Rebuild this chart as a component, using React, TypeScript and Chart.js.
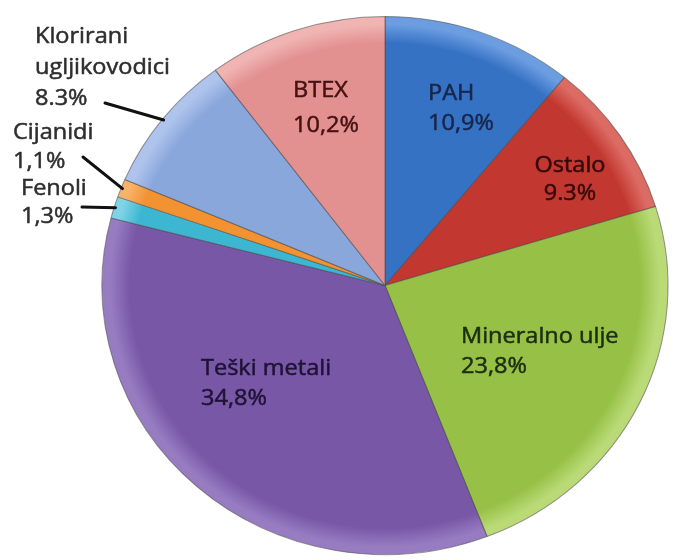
import React, { useEffect, useRef } from "react";
import { Chart, registerables } from "chart.js";

Chart.register(...registerables);

// ---- data ----
const categories = [
  "PAH",
  "Ostalo",
  "Mineralno ulje",
  "Teški metali",
  "Fenoli",
  "Cijanidi",
  "Klorirani ugljikovodici",
  "BTEX",
];
const values = [10.9, 9.3, 23.8, 34.8, 1.3, 1.1, 8.3, 10.2];
const valueLabels = ["10,9%", "9.3%", "23,8%", "34,8%", "1,3%", "1,1%", "8.3%", "10,2%"];
const nameLines = [
  ["PAH"],
  ["Ostalo"],
  ["Mineralno ulje"],
  ["Teški metali"],
  ["Fenoli"],
  ["Cijanidi"],
  ["Klorirani", "ugljikovodici"],
  ["BTEX"],
];

// ---- styles ----
const fillColors = ["#3672c4", "#c2372f", "#97c146", "#7857a7", "#3db6d2", "#f29231", "#8aa7dc", "#e29190"];
const rimColors = ["#6c9de1", "#dc6b64", "#b9da77", "#977cc2", "#7fd3e6", "#f8b36a", "#afc4ec", "#f0b4b2"];
const textColors = ["#18264d", "#360a0a", "#1c2f10", "#1f1335", "#2e2e2e", "#2e2e2e", "#2e2e2e", "#461212"];

// label layout: x, first baseline y, alignment, line height, leader line start (outside labels)
const labelLayout = [
  { x: 428, y: 100, align: "left", lh: 30 },
  { x: 570, y: 172, align: "center", lh: 28 },
  { x: 461, y: 343, align: "left", lh: 30 },
  { x: 201, y: 375, align: "left", lh: 30 },
  { x: 21, y: 195, align: "left", lh: 28, from: [82, 207] },
  { x: 13, y: 139, align: "left", lh: 29, from: [83, 157] },
  { x: 35, y: 43, align: "left", lh: 31, from: [105, 103] },
  { x: 293, y: 97, align: "left", lh: 35 },
];

const FONT = "500 21px 'Open Sans', 'DejaVu Sans', sans-serif";
const SX = 1.12;
// slight perspective squash of the pie (x, y scale about its centre)
const PIE_SX = 1.033;
const PIE_SY = 0.982;

function drawText(ctx: CanvasRenderingContext2D, text: string, x: number, y: number, align: string) {
  ctx.save();
  ctx.translate(x, y);
  ctx.scale(SX, 1);
  ctx.textAlign = align as CanvasTextAlign;
  ctx.textBaseline = "alphabetic";
  ctx.fillText(text, 0, 0);
  ctx.strokeText(text, 0, 0);
  ctx.restore();
}

function pieCentre(chart: any) {
  const a = chart.chartArea;
  return { cx: (a.left + a.right) / 2, cy: (a.top + a.bottom) / 2 };
}

const labelPlugin = {
  id: "sliceLabels",
  beforeDatasetsDraw(chart: any) {
    const ctx: CanvasRenderingContext2D = chart.ctx;
    const { cx, cy } = pieCentre(chart);
    ctx.save();
    ctx.translate(cx, cy);
    ctx.scale(PIE_SX, PIE_SY);
    ctx.translate(-cx, -cy);
  },
  afterDatasetsDraw(chart: any) {
    const ctx: CanvasRenderingContext2D = chart.ctx;
    ctx.restore();
    const { cx, cy } = pieCentre(chart);
    const meta = chart.getDatasetMeta(0);
    ctx.save();
    ctx.font = FONT;
    meta.data.forEach((arc: any, i: number) => {
      const L = labelLayout[i];
      const lines = [...nameLines[i], valueLabels[i]];
      ctx.fillStyle = textColors[i];
      ctx.strokeStyle = textColors[i];
      ctx.lineWidth = 0.5;
      lines.forEach((t, k) => drawText(ctx, t, L.x, L.y + k * L.lh, L.align));
      if (L.from) {
        const p = arc.getProps(["x", "y", "startAngle", "endAngle", "outerRadius"], true);
        const mid = (p.startAngle + p.endAngle) / 2;
        const px = p.x + Math.cos(mid) * p.outerRadius * 0.995;
        const py = p.y + Math.sin(mid) * p.outerRadius * 0.995;
        const ex = cx + (px - cx) * PIE_SX;
        const ey = cy + (py - cy) * PIE_SY;
        ctx.beginPath();
        ctx.strokeStyle = "#111111";
        ctx.lineWidth = 3;
        ctx.lineCap = "round";
        ctx.moveTo(L.from[0], L.from[1]);
        ctx.lineTo(ex, ey);
        ctx.stroke();
      }
    });
    ctx.restore();
  },
};

function sliceFill(c: any) {
  const i = c.dataIndex;
  const chart = c.chart;
  const area = chart.chartArea;
  if (!area) return fillColors[i];
  const cx = (area.left + area.right) / 2;
  const cy = (area.top + area.bottom) / 2;
  const r = Math.min(area.right - area.left, area.bottom - area.top) / 2;
  const g = chart.ctx.createRadialGradient(cx, cy, 0, cx, cy, r);
  g.addColorStop(0, fillColors[i]);
  g.addColorStop(0.9, fillColors[i]);
  g.addColorStop(0.97, rimColors[i]);
  g.addColorStop(1, rimColors[i]);
  return g;
}

export default function App() {
  const ref = useRef<HTMLCanvasElement | null>(null);
  useEffect(() => {
    if (!ref.current) return;
    const chart = new Chart(ref.current, {
      type: "pie",
      data: {
        labels: categories,
        datasets: [
          {
            data: values,
            backgroundColor: sliceFill as any,
            borderColor: "rgba(70,70,70,0.55)",
            borderWidth: 1,
          },
        ],
      },
      options: {
        responsive: false,
        animation: false,
        events: [],
        layout: { padding: { top: 11, bottom: 0, left: 110, right: 13 } },
        plugins: {
          legend: { display: false },
          tooltip: { enabled: false },
        },
      },
      plugins: [labelPlugin],
    });
    return () => chart.destroy();
  }, []);
  return (
    <div style={{ position: "fixed", left: 0, top: 0, width: 673, height: 560, background: "#ffffff" }}>
      <canvas ref={ref} width={673} height={560} />
    </div>
  );
}
